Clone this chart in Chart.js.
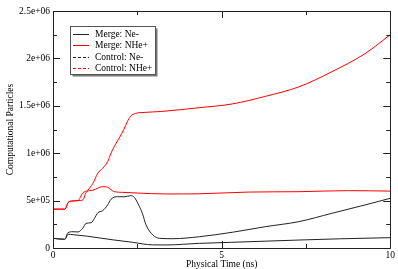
<!DOCTYPE html>
<html>
<head>
<meta charset="utf-8">
<script src="https://cdn.jsdelivr.net/npm/chart.js@4/dist/chart.umd.min.js"></script>
<style>
  html, body { margin: 0; padding: 0; background: #fff; }
</style>
</head>
<body>
<canvas id="graficParticule" width="398" height="269"></canvas>
<script>
// Date (timp in ns, numar de particule)
const seriesLabels = ['Merge: Ne-', 'Merge: NHe+', 'Control: Ne-', 'Control: NHe+'];

const mergeNeT = [0, 0.35, 0.45, 0.6, 0.8, 1.0, 1.4, 1.8, 2.36, 2.95, 3.35, 4.34, 5.3, 7.29, 8.5, 10];
const mergeNe  = [1.02e5, 0.92e5, 1.45e5, 1.4e5, 1.33e5, 1.25e5, 1.05e5, 0.85e5, 0.6e5, 0.33e5, 0.32e5, 0.49e5, 0.6e5, 0.84e5, 0.97e5, 1.09e5];

const mergeNHeT = [0, 0.35, 0.45, 0.55, 0.74, 0.88, 1.0, 1.18, 1.47, 1.62, 1.82, 2.06, 2.5, 3.35, 4.34, 5.8, 7.29, 8.76, 10];
const mergeNHe  = [4.1e5, 4.1e5, 4.8e5, 4.95e5, 5.0e5, 5.06e5, 5.94e5, 6.1e5, 6.47e5, 6.4e5, 5.94e5, 5.87e5, 5.8e5, 5.7e5, 5.72e5, 5.9e5, 5.94e5, 6.05e5, 6.0e5];

const controlNeT = [0, 0.35, 0.44, 0.59, 0.74, 0.88, 0.98, 1.13, 1.23, 1.33, 1.47, 1.62, 1.72, 1.92, 2.11, 2.31, 2.41, 2.56, 2.65, 2.76, 2.96, 3.16, 3.55, 4.34, 5.32, 6.3, 7.29, 8.27, 9.25, 10];
const controlNe  = [1.02e5, 0.92e5, 1.6e5, 1.72e5, 1.69e5, 2.08e5, 2.6e5, 2.67e5, 3.13e5, 3.72e5, 3.93e5, 4.54e5, 5.14e5, 5.41e5, 5.4e5, 5.52e5, 5.35e5, 4.4e5, 3.66e5, 2.43e5, 1.37e5, 1.02e5, 0.98e5, 1.19e5, 1.66e5, 2.25e5, 2.78e5, 3.66e5, 4.54e5, 5.24e5];

const controlNHeT = [0, 0.35, 0.45, 0.55, 0.74, 0.88, 1.03, 1.18, 1.33, 1.47, 1.62, 1.72, 1.83, 1.98, 2.1, 2.2, 2.3, 2.45, 2.7, 3.2, 4.34, 5.32, 6.3, 7.29, 8.27, 9.25, 10];
const controlNHe  = [4.1e5, 4.1e5, 4.8e5, 4.95e5, 5.0e5, 5.8e5, 6.1e5, 6.8e5, 7.9e5, 8.4e5, 9.1e5, 1.0e6, 1.08e6, 1.17e6, 1.25e6, 1.33e6, 1.39e6, 1.42e6, 1.43e6, 1.44e6, 1.48e6, 1.52e6, 1.6e6, 1.7e6, 1.86e6, 2.05e6, 2.25e6];

const xTicks = [0, 5, 10];
const yTicks = [0, 5e5, 1e6, 1.5e6, 2e6, 2.5e6];

function puncte(tt, vv) {
    return tt.map((t, i) => ({ x: t, y: vv[i] }));
}

// format ca in xmgrace: 5e+05, 1.5e+06
function formatExp(v) {
    if (v === 0) return '0';
    return v.toExponential().replace(/e([+-])(\d)$/, (m, s, d) => 'e' + s + '0' + d);
}

const fontSerif = "'Liberation Serif', 'Times New Roman', serif";

// ticks spre interior pe toate cele patru laturi + rama
const ramaPlugin = {
    id: 'rama',
    afterDatasetsDraw(chart) {
        const { ctx, chartArea: a, scales } = chart;
        const xs = scales.x, ys = scales.y;
        ctx.save();
        ctx.strokeStyle = '#222';
        ctx.lineWidth = 1;
        ctx.beginPath();
        ctx.rect(Math.round(a.left) + 0.5, Math.round(a.top) + 0.5, Math.round(a.right - a.left), Math.round(a.bottom - a.top));
        ctx.stroke();
        ctx.beginPath();
        for (let t = 0; t <= 10; t += 2.5) {
            const len = (t % 5 === 0) ? 7 : 4;
            const px = Math.round(xs.getPixelForValue(t)) + 0.5;
            ctx.moveTo(px, a.bottom); ctx.lineTo(px, a.bottom - len);
            ctx.moveTo(px, a.top); ctx.lineTo(px, a.top + len);
        }
        for (let v = 0; v <= 2.5e6; v += 2.5e5) {
            const len = (v % 5e5 === 0) ? 7 : 4;
            const py = Math.round(ys.getPixelForValue(v)) + 0.5;
            ctx.moveTo(a.left, py); ctx.lineTo(a.left + len, py);
            ctx.moveTo(a.right, py); ctx.lineTo(a.right - len, py);
        }
        ctx.stroke();
        ctx.restore();
    }
};

// legenda in stil xmgrace, cu umbra
const legendaPlugin = {
    id: 'legenda',
    afterDraw(chart) {
        const { ctx } = chart;
        const bx = 70.5, by = 26.5, bw = 85, bh = 48;
        ctx.save();
        ctx.fillStyle = '#777';
        ctx.fillRect(bx + 2, by + 2, bw, bh);
        ctx.fillStyle = '#fff';
        ctx.fillRect(bx, by, bw, bh);
        ctx.strokeStyle = '#555';
        ctx.lineWidth = 1;
        ctx.strokeRect(bx, by, bw, bh);
        ctx.font = '9.5px ' + fontSerif;
        ctx.textBaseline = 'middle';
        chart.data.datasets.forEach((ds, i) => {
            const y = Math.round(34 + i * 11.4) + 0.5;
            ctx.strokeStyle = ds.borderColor;
            ctx.setLineDash(ds.legendDash || []);
            ctx.beginPath();
            ctx.moveTo(73, y); ctx.lineTo(89, y);
            ctx.stroke();
            ctx.setLineDash([]);
            ctx.fillStyle = '#000';
            ctx.fillText(ds.label, 95, y);
        });
        ctx.restore();
    }
};

document.addEventListener('DOMContentLoaded', function () {
    const ctx = document.getElementById('graficParticule').getContext('2d');
    // in original liniile punctate sunt atat de dese incat par continue
    const serii = [
        [mergeNeT, mergeNe, '#222222', []],
        [mergeNHeT, mergeNHe, '#ff0000', []],
        [controlNeT, controlNe, '#222222', [3, 2]],
        [controlNHeT, controlNHe, '#ff0000', [3, 2]]
    ];
    new Chart(ctx, {
        type: 'line',
        data: {
            datasets: serii.map((s, i) => ({
                label: seriesLabels[i],
                data: puncte(s[0], s[1]),
                borderColor: s[2],
                legendDash: s[3],
                borderWidth: 1,
                pointRadius: 0,
                fill: false,
                cubicInterpolationMode: 'monotone'
            }))
        },
        options: {
            responsive: false,
            animation: false,
            layout: { padding: { top: 11, right: 6, left: 0, bottom: 0 } },
            plugins: {
                legend: { display: false },
                tooltip: { enabled: false }
            },
            scales: {
                x: {
                    type: 'linear',
                    min: 0, max: 10,
                    afterFit(scale) { scale.height = 21; },
                    afterBuildTicks(scale) { scale.ticks = xTicks.map(v => ({ value: v })); },
                    grid: { display: false, drawTicks: false, tickLength: 0 },
                    border: { display: false },
                    ticks: {
                        padding: 3,
                        maxRotation: 0,
                        color: '#000',
                        font: { family: fontSerif, size: 9.5, lineHeight: 1 },
                        callback: v => String(v)
                    },
                    title: {
                        display: true,
                        text: 'Physical Time (ns)',
                        color: '#000',
                        font: { family: fontSerif, size: 9.5, lineHeight: 1 },
                        padding: { top: 0, bottom: 0 }
                    }
                },
                y: {
                    min: 0, max: 2.5e6,
                    afterFit(scale) { scale.width = 53; },
                    afterBuildTicks(scale) { scale.ticks = yTicks.map(v => ({ value: v })); },
                    grid: { display: false, drawTicks: false, tickLength: 0 },
                    border: { display: false },
                    ticks: {
                        padding: 3,
                        color: '#000',
                        font: { family: fontSerif, size: 9.5, lineHeight: 1 },
                        callback: v => formatExp(v)
                    },
                    title: {
                        display: true,
                        text: 'Computational Particles',
                        color: '#000',
                        font: { family: fontSerif, size: 9.5, lineHeight: 1 },
                        padding: { top: 6, bottom: 0 }
                    }
                }
            }
        },
        plugins: [ramaPlugin, legendaPlugin]
    });
});
</script>
</body>
</html>
